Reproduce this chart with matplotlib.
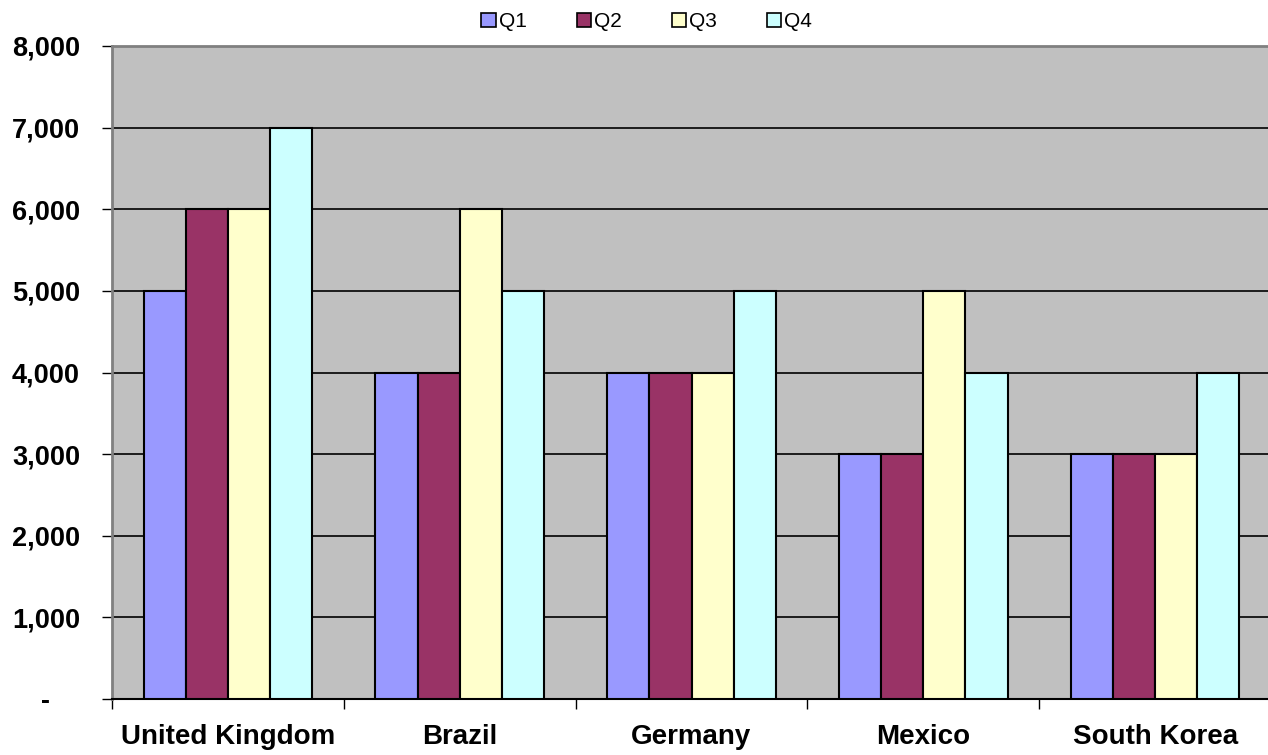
import matplotlib.pyplot as plt
from matplotlib.patches import Patch
import numpy as np

plt.rcParams['font.family'] = ['Liberation Sans', 'DejaVu Sans']

countries = ['United Kingdom', 'Brazil', 'Germany', 'Mexico', 'South Korea']
quarters = ['Q1', 'Q2', 'Q3', 'Q4']
q1 = [5000, 4000, 4000, 3000, 3000]
q2 = [6000, 4000, 4000, 3000, 3000]
q3 = [6000, 6000, 4000, 5000, 3000]
q4 = [7000, 5000, 5000, 4000, 4000]
colors = ['#9999FF', '#993366', '#FFFFCC', '#CCFFFF']
yticks = [0, 1000, 2000, 3000, 4000, 5000, 6000, 7000, 8000]

fig = plt.figure(figsize=(12.68, 7.55), dpi=100)
ax = fig.add_axes([112 / 1268, 56 / 755, 1159 / 1268, 653 / 755])
ax.set_facecolor('#C0C0C0')

x = np.arange(len(countries))
w = 0.182
for i, (vals, c) in enumerate(zip([q1, q2, q3, q4], colors)):
    ax.bar(x + (i - 1.5) * w, vals, w, color=c, edgecolor='black',
           linewidth=1.5, zorder=3)

ax.set_xlim(-0.5, len(countries) - 0.5)
ax.set_ylim(0, 8000)
ax.set_yticks(yticks)
ax.set_yticklabels(['-    '] + [f'{v:,}' for v in yticks[1:]],
                   fontsize=19.5, fontweight='bold')
ax.yaxis.grid(True, color='black', linewidth=1.2, zorder=1)
ax.set_axisbelow(True)

ax.set_xticks(x)
ax.set_xticklabels(countries, fontsize=20, fontweight='bold')
ax.set_xticks(np.arange(-0.5, len(countries) + 0.5, 1), minor=True)
ax.tick_params(axis='x', which='major', length=0, pad=18)
ax.tick_params(axis='x', which='minor', length=7, width=1, color='black')
ax.tick_params(axis='y', length=7, width=1, color='black', pad=16)

for s in ['top', 'left', 'right']:
    ax.spines[s].set_color('#808080')
    ax.spines[s].set_linewidth(2)
ax.spines['bottom'].set_color('black')
ax.spines['bottom'].set_linewidth(1.5)

handles = [Patch(facecolor=c, edgecolor='black', linewidth=1.2) for c in colors]
fig.legend(handles, quarters, loc='center', bbox_to_anchor=(0.51, 0.971),
           ncol=4, frameon=False, fontsize=15, handlelength=0.68,
           handleheight=0.68, handletextpad=0.15, columnspacing=2.4)

fig.savefig('out.png', dpi=100)
